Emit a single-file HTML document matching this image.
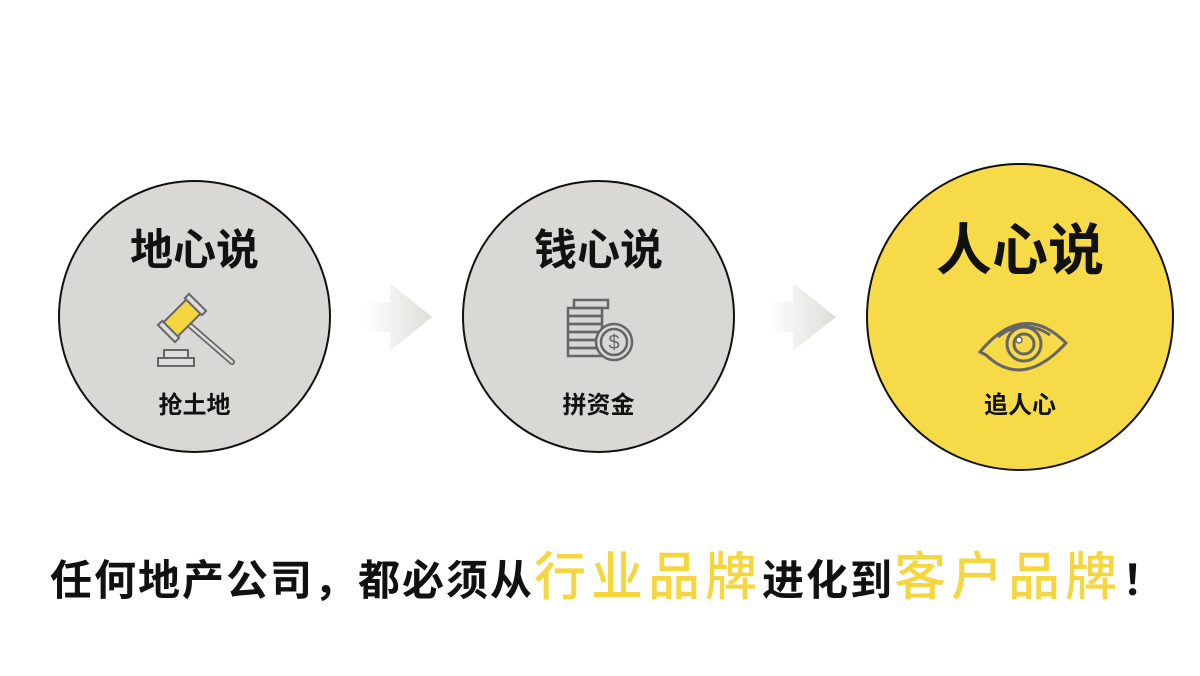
<!DOCTYPE html>
<html><head><meta charset="utf-8"><style>
body{margin:0;width:1200px;height:676px;background:#fff;overflow:hidden;position:relative;font-family:"Liberation Sans","Noto Sans CJK SC",sans-serif}
.c{position:absolute;border-radius:50%;border:2px solid #111;box-sizing:border-box;text-align:center}
.t{position:absolute;left:0;right:0;font-weight:bold;color:#111;line-height:1}
.bot{position:absolute;left:50px;top:548px;white-space:nowrap;font-weight:bold;font-size:42px;letter-spacing:2px;color:#111;line-height:60px}
.y{color:#f5d63e;font-size:52px;letter-spacing:5px;font-weight:500}
</style></head><body>
<div class="c" style="left:58px;top:180px;width:273px;height:273px;background:#d9d8d4">
 <div class="t" style="top:48px;font-size:43px">地心说</div>
 <svg style="position:absolute;left:96px;top:110px" width="80" height="80" viewBox="0 0 80 80">
  <line x1="30" y1="30" x2="76" y2="70" stroke="#666" stroke-width="6" stroke-linecap="round"/>
  <line x1="30" y1="30" x2="76" y2="70" stroke="#ddd" stroke-width="2.5" stroke-linecap="round"/>
  <g transform="rotate(-45 26 26)"><rect x="8" y="16" width="36" height="20" fill="#f5d63e" stroke="#666" stroke-width="2"/><rect x="4" y="14" width="6" height="24" fill="#ddd" stroke="#666" stroke-width="2"/><rect x="42" y="14" width="6" height="24" fill="#ddd" stroke="#666" stroke-width="2"/></g>
  <rect x="8" y="58" width="24" height="8" fill="#ddd" stroke="#666" stroke-width="2"/>
  <rect x="2" y="66" width="36" height="8" fill="#ddd" stroke="#666" stroke-width="2"/>
 </svg>
 <div class="t" style="top:212px;font-size:24px">抢土地</div>
</div>
<div class="c" style="left:462px;top:180px;width:273px;height:273px;background:#d9d8d4">
 <div class="t" style="top:48px;font-size:43px">钱心说</div>
 <svg style="position:absolute;left:98px;top:112px" width="76" height="76" viewBox="0 0 76 76">
  <g fill="none" stroke="#666" stroke-width="2.5">
   <rect x="12" y="6" width="34" height="8"/><rect x="6" y="14" width="34" height="8"/><rect x="6" y="22" width="34" height="8"/><rect x="6" y="30" width="34" height="8"/><rect x="6" y="38" width="34" height="8"/><rect x="6" y="46" width="34" height="8"/><rect x="6" y="54" width="34" height="8"/>
   <circle cx="52" cy="48" r="18" fill="#d9d8d4"/><circle cx="52" cy="48" r="13"/>
  </g>
  <text x="52" y="55" text-anchor="middle" font-size="20" fill="#666">$</text>
 </svg>
 <div class="t" style="top:212px;font-size:24px">拼资金</div>
</div>
<div class="c" style="left:866px;top:163px;width:308px;height:308px;background:#f7da48">
 <div class="t" style="top:58px;font-size:56px">人心说</div>
 <svg style="position:absolute;left:110px;top:150px" width="90" height="60" viewBox="0 0 90 60">
  <g fill="none" stroke="#666" stroke-width="3">
   <path d="M2 37 Q45 -15 88 28 Q45 75 8 40 Z"/>
   <path d="M20 22 Q45 2 72 20"/>
   <circle cx="46" cy="29" r="17"/><circle cx="46" cy="29" r="10"/>
  </g>
  <circle cx="41" cy="25" r="3" fill="#fff" stroke="#666" stroke-width="1.5"/>
 </svg>
 <div class="t" style="top:229px;font-size:24px">追人心</div>
</div>
<svg style="position:absolute;left:360px;top:280px" width="480" height="74">
 <defs><linearGradient id="g" x1="0" x2="1"><stop offset="0" stop-color="#fff"/><stop offset="1" stop-color="#ddddd8"/></linearGradient></defs>
 <path d="M5 22 H30 V3 L72 37 L30 71 V52 H5 Z" fill="url(#g)"/>
 <path d="M408 22 H433 V3 L476 37 L433 71 V52 H408 Z" fill="url(#g)"/>
</svg>
<div class="bot">任何地产公司，都必须从<span class="y">行业品牌</span>进化到<span class="y">客户品牌</span>！</div>
</body></html>
